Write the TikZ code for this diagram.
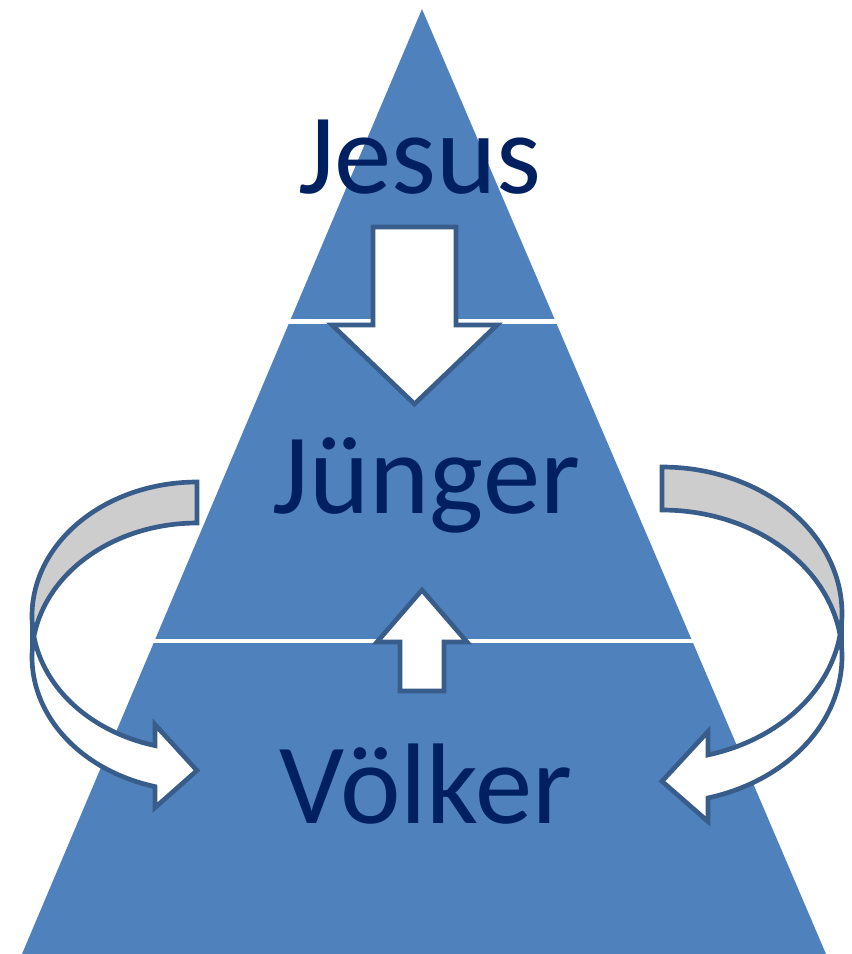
\documentclass[tikz,border=0pt]{standalone}
\usepackage{fontspec}
\setmainfont{Carlito}
\definecolor{pyr}{HTML}{4F81BD}
\definecolor{edge}{HTML}{385D8A}
\definecolor{band}{HTML}{CDCDCD}
\definecolor{txt}{HTML}{002060}
\begin{document}
\begin{tikzpicture}[x=0.75pt,y=-0.75pt,
  arrowline/.style={draw=edge,line width=3.5pt,line join=miter},
  sep/.style={draw=white,line width=3.6pt},
  lbl/.style={text=txt,font=\fontsize{86}{100}\selectfont,anchor=base,inner sep=0pt},
  ep/.style={samples=60,variable=\t}]
\useasboundingbox (0,0) rectangle (852,954);
% pyramid
\fill[pyr] (422,9) -- (826,954) -- (22,954) -- cycle;
\draw[sep] (288,321.5) -- (557,321.5);
\draw[sep] (152,641) -- (694,641);
% labels
\node[lbl] (jesus) at (420,193) {Jesus};
\node[lbl] (juenger) at (426.5,513) {Jünger};
\node[lbl] (voelker) at (426,823) {Völker};
% down arrow
\draw[arrowline,fill=white] (373,227) -- (456,227) -- (456,325) -- (497,325) -- (414.5,404) -- (332,325) -- (373,325) -- cycle;
% up arrow
\draw[arrowline,fill=white] (422,590) -- (467,642) -- (444,642) -- (444,691) -- (400,691) -- (400,642) -- (377,642) -- cycle;
% left curved arrow
\fill[band] plot[ep,domain=270:180] ({197+165*cos(\t)},{616+134*sin(\t)}) -- (32,657) -- plot[ep,domain=180:270] ({197+165*cos(\t)},{657+134*sin(\t)}) -- cycle;
\fill[white] plot[ep,domain=180:104.75] ({197+165*cos(\t)},{616+134*sin(\t)}) -- (155,724.6) -- (197,770.5) -- (155,807.6) -- (155,786.6) -- plot[ep,domain=104.75:180] ({197+165*cos(\t)},{657+134*sin(\t)}) -- cycle;
\draw[arrowline] plot[ep,samples=100,domain=270:104.75] ({197+165*cos(\t)},{616+134*sin(\t)}) -- (155,724.6) -- (197,770.5) -- (155,807.6) -- (155,786.6) -- plot[ep,samples=100,domain=104.75:270] ({197+165*cos(\t)},{657+134*sin(\t)}) -- cycle;
\draw[arrowline] (32,616) -- (32,657);
% right curved arrow
\fill[band] plot[ep,domain=-90:0] ({662+180*cos(\t)},{613.4+146.4*sin(\t)}) -- (842,656.4) -- plot[ep,domain=0:-90] ({662+180*cos(\t)},{656.4+146.4*sin(\t)}) -- cycle;
\fill[white] plot[ep,domain=0:75.19] ({662+180*cos(\t)},{613.4+146.4*sin(\t)}) -- (708,731.5) -- (662,781.3) -- (708,821.5) -- (708,798) -- plot[ep,domain=75.19:0] ({662+180*cos(\t)},{656.4+146.4*sin(\t)}) -- cycle;
\draw[arrowline] plot[ep,samples=100,domain=-90:75.19] ({662+180*cos(\t)},{613.4+146.4*sin(\t)}) -- (708,731.5) -- (662,781.3) -- (708,821.5) -- (708,798) -- plot[ep,samples=100,domain=75.19:-90] ({662+180*cos(\t)},{656.4+146.4*sin(\t)}) -- cycle;
\draw[arrowline] (842,613.4) -- (842,656.4);
\end{tikzpicture}
\end{document}
